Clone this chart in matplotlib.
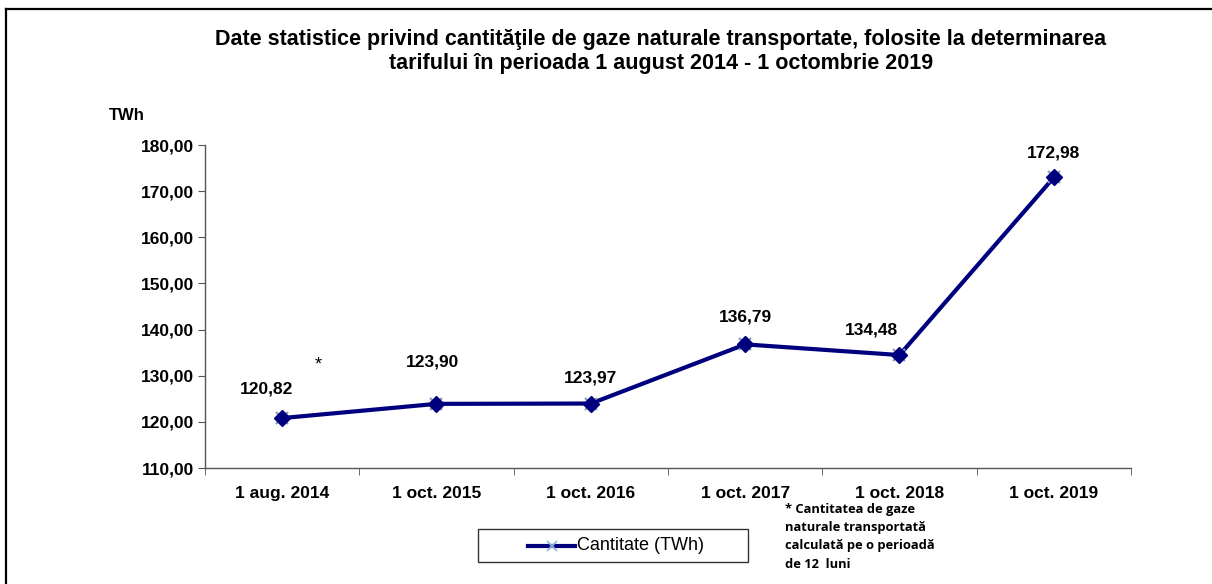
import matplotlib
matplotlib.use("Agg")
import matplotlib.pyplot as plt
from matplotlib.lines import Line2D
from matplotlib.patches import Rectangle

categories = ["1 aug. 2014", "1 oct. 2015", "1 oct. 2016", "1 oct. 2017", "1 oct. 2018", "1 oct. 2019"]
values = [120.82, 123.90, 123.97, 136.79, 134.48, 172.98]
yticks = [110, 120, 130, 140, 150, 160, 170, 180]

plt.rcParams['font.family'] = ['Liberation Sans', 'DejaVu Sans']

W, H = 1212, 584
fig = plt.figure(figsize=(W / 100, H / 100), dpi=100)

# figure border (left + top)
fig.add_artist(Line2D([6 / W, 6 / W], [0, 1 - 9 / H], transform=fig.transFigure, color='black', lw=1.6))
fig.add_artist(Line2D([6 / W, 1], [1 - 9 / H, 1 - 9 / H], transform=fig.transFigure, color='black', lw=1.6))

left, right, top, bottom = 205, 1131, 145, 468
ax = fig.add_axes([left / W, 1 - bottom / H, (right - left) / W, (bottom - top) / H])

x = list(range(len(categories)))
navy = '#00007f'
line, = ax.plot(x, values, color=navy, lw=3.0, marker='x', markersize=9,
                markeredgecolor='#8a9ab8', markeredgewidth=1.5, zorder=3)
ax.plot(x, values, linestyle='none', marker='D', markersize=8, color=navy, zorder=4)

ax.set_xlim(-0.5, len(categories) - 0.5)
ax.set_ylim(110, 180)
ax.set_yticks(yticks)
ax.set_yticklabels([f"{v:.2f}".replace('.', ',') for v in yticks], fontsize=12.5, fontweight='bold')
ax.set_xticks(x)
ax.set_xticklabels(categories, fontsize=12.5, fontweight='bold')
ax.set_xticks([i - 0.5 for i in range(len(categories) + 1)], minor=True)
ax.tick_params(axis='x', which='major', length=0, pad=13)
ax.tick_params(axis='x', which='minor', length=5, color='#555555')
ax.tick_params(axis='y', length=5, color='#555555', pad=3)
for s in ['top', 'right']:
    ax.spines[s].set_visible(False)
for s in ['left', 'bottom']:
    ax.spines[s].set_color('#555555')
    ax.spines[s].set_linewidth(1.0)

# data labels
offsets = [(-16, 29), (-4, 42), (0, 26), (0, 27), (-28, 25), (0, 24)]
for xi, v, (dx, dy) in zip(x, values, offsets):
    ax.annotate(f"{v:.2f}".replace('.', ','), (xi, v), xytext=(dx, dy), textcoords='offset pixels',
                ha='center', va='center', fontsize=12.5, fontweight='bold')

fig.text(318 / W, 1 - 365 / H, "*", fontsize=13, ha='center', va='center')
fig.text(127 / W, 1 - 115 / H, "TWh", fontsize=12, fontweight='bold', ha='center', va='center')

fig.text(661 / W, 1 - 39 / H, "Date statistice privind cantităţile de gaze naturale transportate, folosite la determinarea",
         fontsize=15.5, fontweight='bold', ha='center', va='center')
fig.text(661 / W, 1 - 63 / H, "tarifului în perioada 1 august 2014 - 1 octombrie 2019",
         fontsize=15.5, fontweight='bold', ha='center', va='center')

# legend
fig.add_artist(Rectangle((478 / W, 1 - 562 / H), (748 - 478) / W, (562 - 529) / H,
                         transform=fig.transFigure, fill=False, edgecolor='#333333', lw=1.0))
fig.add_artist(Line2D([528 / W, 575 / W], [1 - 545.5 / H] * 2, transform=fig.transFigure,
                      color=navy, lw=3.0))
fig.add_artist(Line2D([551.5 / W], [1 - 545.5 / H], transform=fig.transFigure, marker='x',
                      markersize=7, markeredgecolor='#8fb4e0', markeredgewidth=1.3, linestyle='none'))
fig.text(577 / W, 1 - 545.5 / H, "Cantitate (TWh)", fontsize=13, ha='left', va='center')

# footnote
foot = ["* Cantitatea de gaze", "naturale transportată", "calculată pe o perioadă", "de 12  luni"]
for i, t in enumerate(foot):
    fig.text(785 / W, 1 - (510 + i * 18) / H, t, fontsize=9.3, fontweight='bold',
             family=['Open Sans', 'DejaVu Sans'], ha='left', va='center')

fig.savefig("out.png", dpi=100)
